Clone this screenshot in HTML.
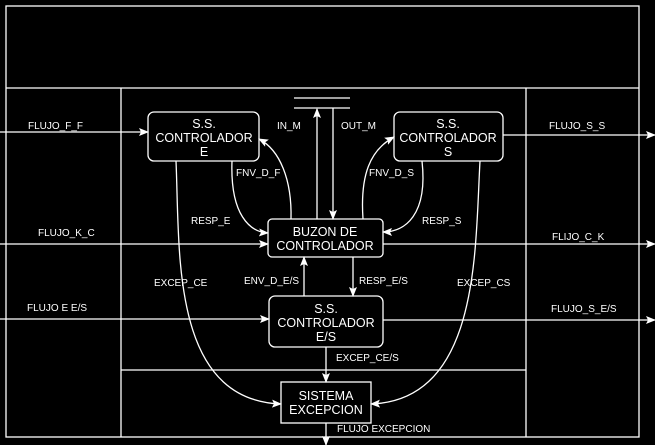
<!DOCTYPE html>
<html><head><meta charset="utf-8"><style>
html,body{margin:0;padding:0;background:#000;}
svg{display:block;}
text{font-family:"Liberation Sans",sans-serif;fill:#fff;}
.l{font-size:10px;}
.b{font-size:12.5px;text-anchor:middle;}
</style></head><body>
<svg width="655" height="445" viewBox="0 0 655 445" xmlns="http://www.w3.org/2000/svg">
<defs>
<marker id="a" markerWidth="10" markerHeight="8" refX="9" refY="4" orient="auto" markerUnits="userSpaceOnUse">
<path d="M0,0 L10,4 L0,8 L2,4 z" fill="#fff"/></marker>
</defs>
<g stroke="#fff" stroke-width="1.3" fill="none">
<rect x="6" y="6" width="633" height="431"/>
<line x1="6" y1="88" x2="639" y2="88"/>
<line x1="121" y1="88" x2="121" y2="437"/>
<line x1="526" y1="88" x2="526" y2="437"/>
<line x1="121" y1="370" x2="526" y2="370"/>
<line x1="294" y1="98" x2="350" y2="98"/>
<line x1="294" y1="108" x2="350" y2="108"/>
<rect x="148" y="112" width="111" height="49" rx="6"/>
<rect x="394" y="112" width="109" height="49" rx="6"/>
<rect x="268" y="219" width="115" height="38" rx="4"/>
<rect x="269" y="296" width="114" height="51" rx="6"/>
<rect x="281" y="382" width="90" height="41"/>
<line x1="0" y1="132" x2="148" y2="132" marker-end="url(#a)"/>
<line x1="0" y1="244" x2="268" y2="244" marker-end="url(#a)"/>
<line x1="0" y1="319" x2="269" y2="319" marker-end="url(#a)"/>
<line x1="503" y1="135" x2="655" y2="135" marker-end="url(#a)"/>
<line x1="383" y1="244" x2="655" y2="244" marker-end="url(#a)"/>
<line x1="383" y1="320" x2="655" y2="320" marker-end="url(#a)"/>
<line x1="317" y1="219" x2="317" y2="109" marker-end="url(#a)"/>
<line x1="333" y1="108" x2="333" y2="219" marker-end="url(#a)"/>
<line x1="304" y1="296" x2="304" y2="257" marker-end="url(#a)"/>
<line x1="353" y1="257" x2="353" y2="296" marker-end="url(#a)"/>
<line x1="326" y1="347" x2="326" y2="382" marker-end="url(#a)"/>
<line x1="326" y1="423" x2="326" y2="445" marker-end="url(#a)"/>
<path d="M291,219 C292,180 280,150 259,139" marker-end="url(#a)"/>
<path d="M232,161 C230,215 250,232 268,233" marker-end="url(#a)"/>
<path d="M363,219 C360,175 370,150 394,137" marker-end="url(#a)"/>
<path d="M422,161 C428,215 405,232 383,232" marker-end="url(#a)"/>
<path d="M176,161 C180,250 170,400 281,404" marker-end="url(#a)"/>
<path d="M480,161 C475,250 480,400 371,404" marker-end="url(#a)"/>
</g>
<text class="b" x="204" y="128">S.S.</text>
<text class="b" x="204" y="142">CONTROLADOR</text>
<text class="b" x="204" y="156">E</text>
<text class="b" x="448" y="128">S.S.</text>
<text class="b" x="448" y="142">CONTROLADOR</text>
<text class="b" x="448" y="156">S</text>
<text class="b" x="325" y="236">BUZON DE</text>
<text class="b" x="325" y="250">CONTROLADOR</text>
<text class="b" x="326" y="313">S.S.</text>
<text class="b" x="326" y="327">CONTROLADOR</text>
<text class="b" x="326" y="341">E/S</text>
<text class="b" x="326" y="400">SISTEMA</text>
<text class="b" x="326" y="414">EXCEPCION</text>
<text class="l" x="28" y="129">FLUJO_F_F</text>
<text class="l" x="277" y="129">IN_M</text>
<text class="l" x="341" y="129">OUT_M</text>
<text class="l" x="549" y="129">FLUJO_S_S</text>
<text class="l" x="236" y="176">FNV_D_F</text>
<text class="l" x="369" y="176">FNV_D_S</text>
<text class="l" x="191" y="224">RESP_E</text>
<text class="l" x="422" y="224">RESP_S</text>
<text class="l" x="38" y="236">FLUJO_K_C</text>
<text class="l" x="552" y="240">FLIJO_C_K</text>
<text class="l" x="154" y="286">EXCEP_CE</text>
<text class="l" x="244" y="284">ENV_D_E/S</text>
<text class="l" x="359" y="284">RESP_E/S</text>
<text class="l" x="457" y="286">EXCEP_CS</text>
<text class="l" x="27" y="311">FLUJO E E/S</text>
<text class="l" x="551" y="312">FLUJO_S_E/S</text>
<text class="l" x="336" y="361">EXCEP_CE/S</text>
<text class="l" x="337" y="432">FLUJO EXCEPCION</text>
</svg>
</body></html>
